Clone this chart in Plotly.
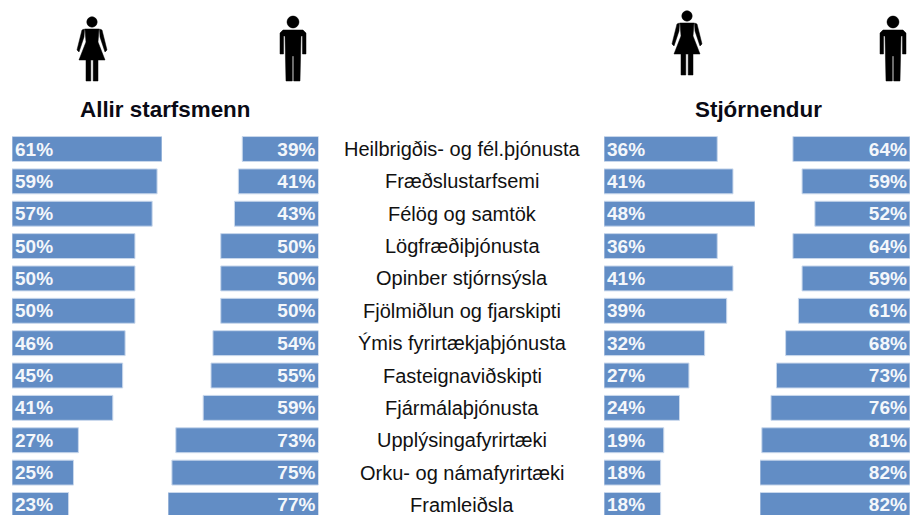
import plotly.graph_objects as go

W, H = 916, 515

categories = ["Heilbrigðis- og fél.þjónusta", "Fræðslustarfsemi", "Félög og samtök", "Lögfræðiþjónusta",
              "Opinber stjórnsýsla", "Fjölmiðlun og fjarskipti", "Ýmis fyrirtækjaþjónusta", "Fasteignaviðskipti",
              "Fjármálaþjónusta", "Upplýsingafyrirtæki", "Orku- og námafyrirtæki", "Framleiðsla"]
allir_konur = [61, 59, 57, 50, 50, 50, 46, 45, 41, 27, 25, 23]
allir_karlar = [39, 41, 43, 50, 50, 50, 54, 55, 59, 73, 75, 77]
stj_konur = [36, 41, 48, 36, 41, 39, 32, 27, 24, 19, 18, 18]
stj_karlar = [64, 59, 52, 64, 59, 61, 68, 73, 76, 81, 82, 82]

BAR = "#628DC5"
EDGE = "#C9D8EC"
FONT = "Liberation Sans"

panels = [
    (allir_konur, 12, 162, False),
    (allir_karlar, 168, 318.5, True),
    (stj_konur, 604, 755, False),
    (stj_karlar, 760, 910, True),
]

fig = go.Figure()
layout_axes = {}
for i, (vals, x0, x1, rev) in enumerate(panels, start=1):
    name = "xaxis" if i == 1 else f"xaxis{i}"
    mx = max(vals)
    layout_axes[name] = dict(domain=[x0 / W, x1 / W], range=[mx, 0] if rev else [0, mx],
                             visible=False, fixedrange=True, anchor="y")
    fig.add_trace(go.Bar(
        x=vals, y=categories, orientation="h", xaxis="x" if i == 1 else f"x{i}", yaxis="y",
        width=0.77, marker=dict(color=BAR, line=dict(color=EDGE, width=1)),
        text=[f"<b>{v}%</b>" for v in vals], textposition="inside", insidetextanchor="start",
        textangle=0, constraintext="none", cliponaxis=False,
        insidetextfont=dict(family=FONT, size=19, color="#F4F7FB"),
        showlegend=False, hoverinfo="skip"))

# Row pitch 32.36 px; row 0 centred at 149 px from the top.
pitch, first = 32.36, 149
y_range = [(H - first) / pitch, -first / pitch]


def px(x, y):
    return f"{x / W:.5f},{1 - y / H:.5f}"


def poly(pts):
    return "M" + " L".join(px(x, y) for x, y in pts) + " Z"


def shape(path):
    return dict(type="path", path=path, xref="paper", yref="paper", fillcolor="black",
                line=dict(color="black", width=0.5), layer="above")


def head(cx, cy, r):
    k = 0.5523 * r
    return ("M" + px(cx - r, cy) +
            " C" + px(cx - r, cy - k) + " " + px(cx - k, cy - r) + " " + px(cx, cy - r) +
            " C" + px(cx + k, cy - r) + " " + px(cx + r, cy - k) + " " + px(cx + r, cy) +
            " C" + px(cx + r, cy + k) + " " + px(cx + k, cy + r) + " " + px(cx, cy + r) +
            " C" + px(cx - k, cy + r) + " " + px(cx - r, cy + k) + " " + px(cx - r, cy) + " Z")


def woman(cx, top):
    y = lambda d: top + d
    return [
        shape(head(cx, y(6), 5.2)),
        shape(poly([(cx - 7, y(13)), (cx + 7, y(13)), (cx + 6, y(26)), (cx + 13, y(44)), (cx + 6, y(44)),
                    (cx + 6, y(65)), (cx + 1.2, y(65)), (cx + 1.2, y(44)), (cx - 1.2, y(44)), (cx - 1.2, y(65)),
                    (cx - 6, y(65)), (cx - 6, y(44)), (cx - 13, y(44)), (cx - 6, y(26))])),
        shape(poly([(cx + 7.5, y(13)), (cx + 10, y(14)), (cx + 15, y(34)), (cx + 13, y(36)), (cx + 8, y(21))])),
        shape(poly([(cx - 7.5, y(13)), (cx - 10, y(14)), (cx - 15, y(34)), (cx - 13, y(36)), (cx - 8, y(21))])),
    ]


def man(cx, top):
    y = lambda d: top + d
    return [
        shape(head(cx, y(6), 6)),
        shape(poly([(cx - 10, y(14)), (cx + 10, y(14)), (cx + 13, y(17)), (cx + 13, y(38)), (cx + 9.5, y(38)),
                    (cx + 9.5, y(20)), (cx + 8, y(20)), (cx + 7, y(65)), (cx + 0.7, y(65)), (cx + 0.7, y(40)),
                    (cx - 0.7, y(40)), (cx - 0.7, y(65)), (cx - 7, y(65)), (cx - 8, y(20)), (cx - 9.5, y(20)),
                    (cx - 9.5, y(38)), (cx - 13, y(38)), (cx - 13, y(17))])),
    ]


shapes = woman(92, 16) + man(293, 16) + woman(687, 10) + man(893, 16)

annotations = [dict(text=c, x=462 / W, y=c, xref="paper", yref="y", showarrow=False, xanchor="center",
                    yanchor="middle", font=dict(family=FONT, size=20, color="#111111")) for c in categories]
for txt, cx in (("Allir starfsmenn", 164.5), ("Stjórnendur", 758.5)):
    annotations.append(dict(text=f"<b>{txt}</b>", x=cx / W, y=1 - 109 / H, xref="paper", yref="paper",
                            showarrow=False, xanchor="center", yanchor="middle",
                            font=dict(family=FONT, size=22.4, color="#0A0A14")))

fig.update_layout(
    width=W, height=H, margin=dict(l=0, r=0, t=0, b=0), autosize=False,
    paper_bgcolor="white", plot_bgcolor="white", barmode="overlay",
    yaxis=dict(type="category", categoryorder="array", categoryarray=categories, range=y_range,
               visible=False, fixedrange=True, domain=[0, 1]),
    shapes=shapes, annotations=annotations, **layout_axes)

fig.write_html("out.html", config=dict(displayModeBar=False),
               post_script="document.body.style.margin='0';document.documentElement.style.overflow='hidden';")
